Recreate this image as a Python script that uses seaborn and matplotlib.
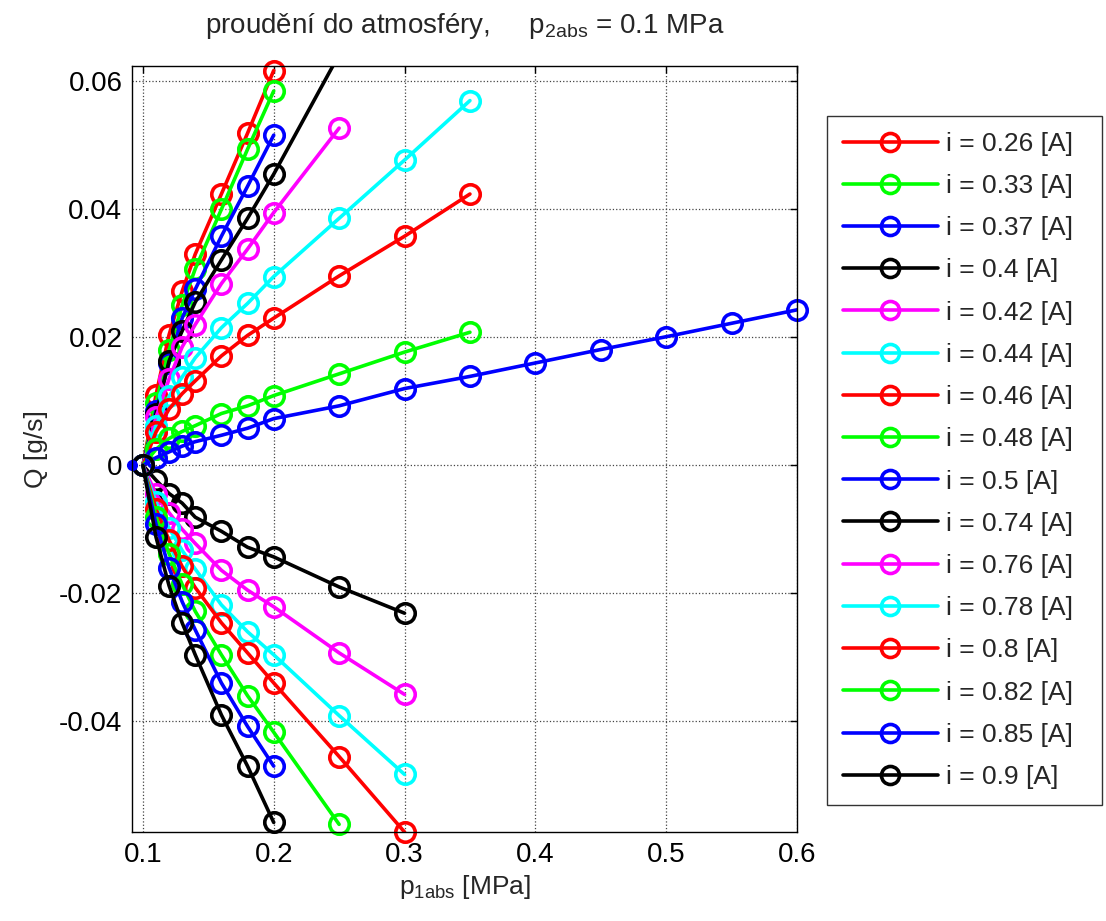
import matplotlib
matplotlib.use("Agg")
import matplotlib.pyplot as plt
import seaborn as sns
import numpy as np
import pandas as pd

# ---------------- data ----------------
currents = ["0.26", "0.33", "0.37", "0.4", "0.42", "0.44", "0.46", "0.48", "0.5",
            "0.74", "0.76", "0.78", "0.8", "0.82", "0.85", "0.9"]
colors = ["#ff0000", "#00ff00", "#0000ff", "#000000", "#ff00ff", "#00ffff"] * 3

p_short = [0.10, 0.11, 0.12, 0.13, 0.14, 0.16, 0.18, 0.20]
p_025 = p_short + [0.25]
p_030 = p_short + [0.25, 0.30]
p_035 = p_short + [0.25, 0.30, 0.35]
p_060 = p_short + [0.25, 0.30, 0.35, 0.40, 0.45, 0.50, 0.55, 0.60]

q_026 = [0, 0.0110, 0.0204, 0.0272, 0.0330, 0.0424, 0.0519, 0.0617]
q_033 = [0, 0.0097, 0.0180, 0.0250, 0.0307, 0.0400, 0.0494, 0.0585]
q_037 = [0, 0.0085, 0.0160, 0.0230, 0.0275, 0.0358, 0.0436, 0.0516]
q_040 = [0, 0.0080, 0.0163, 0.0210, 0.0255, 0.0321, 0.0386, 0.0455, 0.0642]
q_042 = [0, 0.0075, 0.0135, 0.0185, 0.0220, 0.0284, 0.0338, 0.0395, 0.0527]
q_044 = [0, 0.0062, 0.0108, 0.0138, 0.0168, 0.0215, 0.0253, 0.0295, 0.0386, 0.0477, 0.0570]
q_046 = [0, 0.0052, 0.0088, 0.0112, 0.0132, 0.0171, 0.0203, 0.0230, 0.0296, 0.0358, 0.0424]
q_048 = [0, 0.0025, 0.0042, 0.0053, 0.0062, 0.0081, 0.0093, 0.0109, 0.0143, 0.0177, 0.0208]
q_050 = [0, 0.0012, 0.0021, 0.0030, 0.0037, 0.0047, 0.0058, 0.0073, 0.0093, 0.0120,
         0.0139, 0.0160, 0.0181, 0.0201, 0.0222, 0.0243]
q_074 = [0, -0.0023, -0.0044, -0.0059, -0.0081, -0.0103, -0.0128, -0.0143, -0.0190, -0.0231]
q_076 = [0, -0.0045, -0.0074, -0.0100, -0.0122, -0.0164, -0.0195, -0.0221, -0.0293, -0.0358]
q_078 = [0, -0.0058, -0.0098, -0.0133, -0.0162, -0.0218, -0.0260, -0.0296, -0.0391, -0.0483]
q_080 = [0, -0.0068, -0.0117, -0.0158, -0.0191, -0.0246, -0.0293, -0.0340, -0.0455, -0.0573]
q_082 = [0, -0.0080, -0.0138, -0.0186, -0.0228, -0.0296, -0.0360, -0.0417, -0.0561]
q_085 = [0, -0.0092, -0.0160, -0.0213, -0.0257, -0.0340, -0.0408, -0.0470]
q_090 = [0, -0.0112, -0.0188, -0.0246, -0.0296, -0.0390, -0.0470, -0.0558]

series_p = [p_short, p_short, p_short, p_025, p_025, p_035, p_035, p_035, p_060,
            p_030, p_030, p_030, p_030, p_025, p_short, p_short]
series_q = [q_026, q_033, q_037, q_040, q_042, q_044, q_046, q_048, q_050,
            q_074, q_076, q_078, q_080, q_082, q_085, q_090]

extra_p = [0.0918]
extra_q = [0.0]

x_ticks = [0.1, 0.2, 0.3, 0.4, 0.5, 0.6]
x_labels = ["0.1", "0.2", "0.3", "0.4", "0.5", "0.6"]
y_ticks = [-0.04, -0.02, 0.0, 0.02, 0.04, 0.06]
y_labels = ["-0.04", "-0.02", "0", "0.02", "0.04", "0.06"]

X_MIN, X_MAX = 0.0918, 0.6
Y_MIN, Y_MAX = -0.0573, 0.0624

# ---------------- style ----------------
sns.set_theme(style="white")
plt.rcParams["font.family"] = ["Liberation Sans", "DejaVu Sans"]
plt.rcParams["mathtext.fontset"] = "custom"
plt.rcParams["mathtext.rm"] = "Liberation Sans"
plt.rcParams["mathtext.it"] = "Liberation Sans"
plt.rcParams["mathtext.default"] = "rm"

fig = plt.figure(figsize=(11.06, 9.21), dpi=100)
ax = fig.add_axes([0.1195, 0.0966, 0.6011, 0.8317])

for cur, col, px, qy in zip(currents, colors, series_p, series_q):
    df = pd.DataFrame({"p": px, "q": qy})
    inside = df[(df.q <= Y_MAX + 1e-6) & (df.q >= Y_MIN - 1e-6)]
    # line (clipped to the axes)
    sns.lineplot(data=df, x="p", y="q", ax=ax, color=col, linewidth=2.6,
                 estimator=None, sort=False, legend=False)
    # markers of points inside the limits drawn whole (MATLAB-like)
    sns.lineplot(data=inside, x="p", y="q", ax=ax, color=col, linestyle="none",
                 marker="o", markersize=14, markerfacecolor="none",
                 markeredgecolor=col, markeredgewidth=2.6, estimator=None,
                 sort=False, legend=False, clip_on=False)

ax.plot(extra_p, extra_q, marker="o", color="#0000ff", markersize=7,
        linestyle="none", clip_on=False)

ax.set_xlim(X_MIN, X_MAX)
ax.set_ylim(Y_MIN, Y_MAX)
ax.set_xticks(x_ticks)
ax.set_xticklabels(x_labels)
ax.set_yticks(y_ticks)
ax.set_yticklabels(y_labels)
ax.tick_params(direction="in", length=5, width=1, top=True, right=True,
               labelsize=20, pad=7, colors="black")
ax.grid(True, linestyle=":", color="#444444", linewidth=0.9)
for s in ax.spines.values():
    s.set_color("black")
    s.set_linewidth(1.0)

ax.set_xlabel(r"p$_{\mathrm{1abs}}$ [MPa]", fontsize=19, labelpad=4)
ax.set_ylabel("Q [g/s]", fontsize=19, labelpad=8)
ax.set_title(r"proudění do atmosféry,     p$_{\mathrm{2abs}}$ = 0.1 MPa",
             fontsize=20, pad=24)

handles = [plt.Line2D([], [], color=c, linewidth=2.6, marker="o", markersize=13,
                      markerfacecolor="none", markeredgewidth=2.6) for c in colors[:16]]
leg_h = (795 - 116) / 921
leg = fig.legend(handles=handles, labels=[f"i = {c} [A]" for c in currents],
                 loc="upper left",
                 bbox_to_anchor=(827 / 1106, 1 - 116 / 921 - leg_h, 275 / 1106, leg_h),
                 mode="expand",
                 fontsize=19, frameon=True, fancybox=False, edgecolor="black",
                 handlelength=3.6, labelspacing=0.69, borderpad=0.6,
                 handletextpad=0.3, borderaxespad=0)
leg.get_frame().set_linewidth(1.0)

fig.savefig("out.png", dpi=100, facecolor="white")
